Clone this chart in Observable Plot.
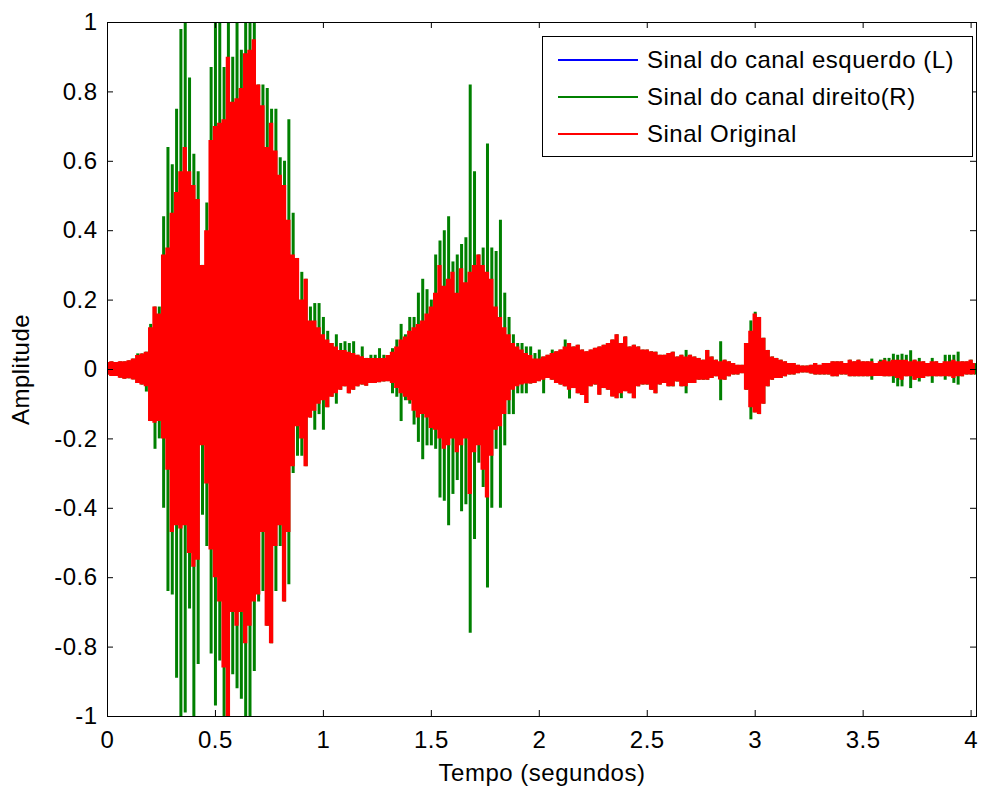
<!DOCTYPE html>
<html><head><meta charset="utf-8">
<script src="https://cdn.jsdelivr.net/npm/d3@7"></script>
<script src="https://cdn.jsdelivr.net/npm/@observablehq/plot@0.6"></script>
<style>
body{margin:0;background:#fff;}
#wrap{position:relative;width:981px;height:794px;font-family:"Liberation Sans",Arial,sans-serif;}
#wrap svg{position:absolute;left:0;top:0;}
#legend{position:absolute;left:542px;top:36px;width:431px;height:121px;border:1px solid #000;background:#fff;box-sizing:border-box;}
.row{position:absolute;left:0;height:37px;display:flex;align-items:center;font-size:24px;letter-spacing:0.5px;color:#000;white-space:nowrap;}
.sw{display:block;width:80px;height:2px;margin-left:15px;margin-right:9px;}
</style></head><body><div id="wrap"><div id="legend"></div></div>
<script>
// ---- labels / ticks ----
const seriesNames = ["Sinal do canal esquerdo (L)", "Sinal do canal direito(R)", "Sinal Original"];
const seriesColors = ["#0000FF", "#008000", "#FF0000"];
const xLabel = "Tempo (segundos)";
const yLabel = "Amplitude";
const xTicks = [0, 0.5, 1, 1.5, 2, 2.5, 3, 3.5, 4];
const yTicks = [-1, -0.8, -0.6, -0.4, -0.2, 0, 0.2, 0.4, 0.6, 0.8, 1];
const sampleStep = 0.02; // seconds between envelope readings (t = 0.00 ... 4.02)

// ---- envelope readings (upper / lower) of each signal, every 0.02 s ----
const redHi = [
0.02,0.022,0.02,0.022,0.022,0.025,0.03,0.04,0.045,0.05,
0.12,0.18,0.16,0.33,0.35,0.45,0.51,0.57,0.64,0.57,
0.53,0.49,0.30,0.40,0.66,0.70,0.71,0.72,0.90,0.77,
0.78,0.81,0.91,0.92,0.95,0.82,0.76,0.64,0.71,0.63,
0.56,0.53,0.43,0.33,0.32,0.20,0.26,0.14,0.14,0.12,
0.10,0.085,0.075,0.065,0.055,0.055,0.05,0.046,0.041,0.037,
0.032,0.032,0.032,0.032,0.032,0.04,0.05,0.065,0.085,0.094,
0.11,0.12,0.13,0.14,0.16,0.18,0.22,0.30,0.24,0.26,
0.28,0.22,0.29,0.25,0.28,0.30,0.33,0.30,0.28,0.26,
0.18,0.15,0.12,0.10,0.075,0.065,0.056,0.046,0.04,0.03,
0.03,0.036,0.041,0.046,0.051,0.056,0.065,0.075,0.065,0.07,
0.056,0.051,0.056,0.061,0.065,0.07,0.075,0.085,0.10,0.075,
0.094,0.065,0.07,0.065,0.056,0.056,0.051,0.05,0.041,0.041,
0.046,0.05,0.036,0.041,0.036,0.041,0.036,0.032,0.027,0.055,
0.036,0.027,0.022,0.027,0.022,0.017,0.012,0.012,0.075,0.11,
0.16,0.15,0.09,0.055,0.036,0.032,0.027,0.022,0.017,0.017,
0.012,0.01,0.01,0.012,0.017,0.012,0.017,0.017,0.022,0.022,
0.022,0.017,0.027,0.022,0.027,0.022,0.022,0.022,0.017,0.022,
0.027,0.022,0.027,0.027,0.027,0.027,0.022,0.027,0.022,0.022,
0.017,0.022,0.022,0.017,0.022,0.022,0.027,0.022,0.022,0.022,
0.027,0.017];
const redLo = [
-0.016,-0.02,-0.02,-0.025,-0.028,-0.027,-0.03,-0.04,-0.045,-0.05,
-0.15,-0.155,-0.15,-0.2,-0.29,-0.47,-0.45,-0.46,-0.45,-0.53,
-0.57,-0.55,-0.22,-0.33,-0.52,-0.6,-0.67,-0.86,-1.0,-0.70,
-0.74,-0.70,-0.79,-0.74,-0.67,-0.65,-0.47,-0.74,-0.79,-0.51,
-0.45,-0.67,-0.47,-0.28,-0.165,-0.2,-0.28,-0.14,-0.12,-0.10,
-0.09,-0.11,-0.08,-0.07,-0.06,-0.05,-0.07,-0.06,-0.05,-0.045,
-0.048,-0.04,-0.04,-0.038,-0.036,-0.035,-0.04,-0.055,-0.07,-0.08,
-0.09,-0.12,-0.14,-0.13,-0.14,-0.17,-0.175,-0.2,-0.23,-0.22,
-0.2,-0.24,-0.22,-0.2,-0.36,-0.24,-0.22,-0.29,-0.37,-0.25,
-0.175,-0.165,-0.13,-0.09,-0.06,-0.05,-0.045,-0.042,-0.042,-0.04,
-0.035,-0.031,-0.026,-0.031,-0.04,-0.045,-0.05,-0.06,-0.055,-0.07,
-0.075,-0.098,-0.05,-0.045,-0.074,-0.055,-0.06,-0.079,-0.084,-0.07,
-0.064,-0.07,-0.084,-0.05,-0.045,-0.045,-0.06,-0.07,-0.045,-0.04,
-0.05,-0.05,-0.036,-0.05,-0.05,-0.04,-0.04,-0.031,-0.031,-0.031,
-0.026,-0.021,-0.03,-0.031,-0.021,-0.016,-0.016,-0.012,-0.06,-0.11,
-0.125,-0.13,-0.1,-0.05,-0.031,-0.026,-0.026,-0.021,-0.016,-0.016,
-0.012,-0.01,-0.01,-0.013,-0.016,-0.016,-0.016,-0.016,-0.021,-0.021,
-0.016,-0.016,-0.021,-0.021,-0.021,-0.021,-0.021,-0.021,-0.02,-0.02,
-0.021,-0.021,-0.021,-0.026,-0.031,-0.021,-0.021,-0.031,-0.026,-0.026,
-0.021,-0.021,-0.021,-0.021,-0.021,-0.021,-0.026,-0.021,-0.021,-0.016,
-0.016,-0.016];
const greenHi = [
0.02,0.022,0.02,0.022,0.022,0.025,0.03,0.045,0.045,0.05,
0.13,0.18,0.18,0.44,0.64,0.59,0.75,0.98,1.0,0.84,
0.62,0.57,0.30,0.48,0.87,1.0,1.0,0.87,1.0,0.90,
1.0,0.92,1.0,1.0,1.0,0.82,0.82,0.81,0.75,0.75,
0.61,0.60,0.72,0.45,0.32,0.28,0.26,0.18,0.19,0.19,
0.15,0.11,0.075,0.10,0.075,0.08,0.075,0.08,0.041,0.065,
0.032,0.041,0.041,0.06,0.041,0.04,0.06,0.085,0.13,0.10,
0.15,0.15,0.22,0.26,0.23,0.20,0.33,0.37,0.40,0.44,
0.31,0.33,0.36,0.38,0.82,0.57,0.33,0.35,0.65,0.35,
0.34,0.43,0.22,0.15,0.10,0.075,0.075,0.065,0.065,0.046,
0.056,0.036,0.041,0.056,0.051,0.056,0.085,0.075,0.065,0.07,
0.056,0.051,0.056,0.061,0.065,0.07,0.075,0.085,0.10,0.075,
0.094,0.065,0.07,0.065,0.056,0.056,0.051,0.05,0.041,0.041,
0.046,0.05,0.036,0.041,0.055,0.041,0.036,0.032,0.027,0.055,
0.036,0.027,0.08,0.027,0.022,0.017,0.012,0.012,0.075,0.14,
0.165,0.15,0.09,0.055,0.036,0.032,0.027,0.022,0.017,0.017,
0.012,0.01,0.01,0.012,0.017,0.012,0.017,0.017,0.022,0.022,
0.022,0.017,0.027,0.022,0.027,0.022,0.022,0.03,0.017,0.027,
0.032,0.032,0.044,0.041,0.044,0.041,0.054,0.027,0.032,0.022,
0.017,0.032,0.022,0.017,0.041,0.041,0.041,0.05,0.022,0.022,
0.027,0.017];
const greenLo = [
-0.016,-0.02,-0.02,-0.025,-0.028,-0.027,-0.03,-0.04,-0.045,-0.065,
-0.15,-0.23,-0.2,-0.4,-0.64,-0.65,-0.89,-1.0,-0.99,-0.69,
-1.0,-0.85,-0.42,-0.51,-0.82,-0.97,-0.84,-1.0,-1.0,-0.88,
-0.92,-0.95,-1.0,-1.0,-0.87,-0.67,-0.64,-0.74,-0.79,-0.64,
-0.51,-0.67,-0.62,-0.3,-0.25,-0.25,-0.28,-0.14,-0.175,-0.13,
-0.175,-0.11,-0.08,-0.1,-0.06,-0.05,-0.07,-0.06,-0.05,-0.045,
-0.048,-0.04,-0.04,-0.038,-0.036,-0.035,-0.07,-0.08,-0.15,-0.09,
-0.1,-0.16,-0.21,-0.26,-0.22,-0.22,-0.23,-0.37,-0.38,-0.45,
-0.36,-0.32,-0.41,-0.39,-0.76,-0.49,-0.27,-0.34,-0.63,-0.40,
-0.23,-0.40,-0.22,-0.13,-0.13,-0.07,-0.07,-0.07,-0.042,-0.04,
-0.035,-0.07,-0.026,-0.031,-0.04,-0.045,-0.05,-0.085,-0.055,-0.07,
-0.075,-0.098,-0.05,-0.045,-0.074,-0.055,-0.06,-0.079,-0.084,-0.084,
-0.064,-0.07,-0.084,-0.05,-0.045,-0.045,-0.06,-0.07,-0.045,-0.04,
-0.05,-0.05,-0.036,-0.05,-0.07,-0.04,-0.04,-0.031,-0.031,-0.031,
-0.026,-0.021,-0.09,-0.031,-0.021,-0.016,-0.016,-0.012,-0.06,-0.145,
-0.125,-0.13,-0.1,-0.05,-0.031,-0.026,-0.026,-0.021,-0.016,-0.016,
-0.012,-0.01,-0.01,-0.013,-0.016,-0.016,-0.016,-0.016,-0.021,-0.021,
-0.016,-0.016,-0.021,-0.021,-0.021,-0.021,-0.021,-0.031,-0.02,-0.02,
-0.021,-0.021,-0.04,-0.05,-0.05,-0.021,-0.055,-0.031,-0.036,-0.026,
-0.021,-0.04,-0.021,-0.021,-0.031,-0.021,-0.04,-0.045,-0.021,-0.016,
-0.016,-0.016];

const rows = redHi.map((_, i) => ({
  t: +(i * sampleStep).toFixed(2),
  rHi: redHi[i], rLo: redLo[i], gHi: greenHi[i], gLo: greenLo[i]
}));

const font = '"Liberation Sans", Arial, sans-serif';
const fmt = d => String(d);

const chart = Plot.plot({
  width: 981, height: 794,
  marginLeft: 107, marginRight: 5, marginTop: 22, marginBottom: 78,
  x: {domain: [0, 4.025]},
  y: {domain: [-1, 1]},
  style: {fontFamily: font, fontSize: "24px", color: "#000", background: "#fff", letterSpacing: "0.5px"},
  marks: [
    Plot.ruleX(rows, {x: "t", y1: "gLo", y2: "gHi", stroke: seriesColors[1], strokeWidth: 3, clip: true}),
    Plot.areaY(rows, {x: "t", y1: "rLo", y2: "rHi", fill: seriesColors[2], curve: "step", clip: true}),
    Plot.frame({stroke: "#000", strokeWidth: 1}),
    Plot.tickX(xTicks, {x: d => d, insetTop: 688, stroke: "#000"}),
    Plot.tickX(xTicks, {x: d => d, insetBottom: 688, stroke: "#000"}),
    Plot.tickY(yTicks, {y: d => d, insetRight: 863, stroke: "#000"}),
    Plot.tickY(yTicks, {y: d => d, insetLeft: 863, stroke: "#000"}),
    Plot.axisX(xTicks, {tickSize: 0, tickPadding: 14, tickFormat: fmt, fontSize: 24,
      label: xLabel, labelAnchor: "center", labelOffset: 64, labelArrow: "none"}),
    Plot.axisY(yTicks, {tickSize: 0, tickPadding: 10, tickFormat: fmt, fontSize: 24,
      label: yLabel, labelAnchor: "center", labelOffset: 96, labelArrow: "none"})
  ]
});
document.getElementById("wrap").prepend(chart);

// legend (three entries, blue channel is hidden under the others in the plot)
const legend = document.getElementById("legend");
seriesNames.forEach((name, i) => {
  const row = document.createElement("div");
  row.className = "row";
  row.style.top = (4 + i * 37) + "px";
  const sw = document.createElement("span");
  sw.className = "sw";
  sw.style.backgroundColor = seriesColors[i];
  const tx = document.createElement("span");
  tx.textContent = name;
  row.append(sw, tx);
  legend.append(row);
});
</script></body></html>
